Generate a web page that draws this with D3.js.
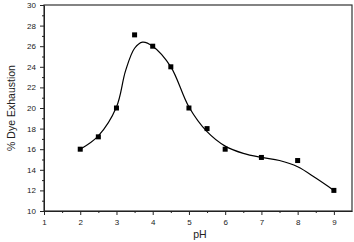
<!DOCTYPE html>
<html><head><meta charset="utf-8">
<script src="https://cdn.jsdelivr.net/npm/d3@7"></script>
<style>body{margin:0;background:#fff}svg{display:block}text{font-family:"Liberation Sans",Arial,sans-serif}</style>
</head><body><div id="chart"></div>
<script>
const pH = [2, 2.5, 3, 3.5, 4, 4.5, 5, 5.5, 6, 7, 8, 9];
const exhaustion = [16, 17.2, 20, 27.1, 26, 24, 20, 18, 16, 15.2, 14.9, 12];
const fitPH = [2, 2.5, 3, 3.25, 3.5, 3.72, 4, 4.5, 5, 5.5, 6, 6.5, 7, 7.5, 8, 8.5, 9];
const fitY = [16, 17.3, 20.1, 23.6, 25.8, 26.4, 26.0, 24.0, 20.1, 17.7, 16.3, 15.6, 15.2, 14.9, 14.3, 13.2, 12];
const xTicks = [1, 2, 3, 4, 5, 6, 7, 8, 9];
const yTicks = [10, 12, 14, 16, 18, 20, 22, 24, 26, 28, 30];

const W = 354, H = 242;
const m = {left: 44, right: 2, top: 5, bottom: 31};
const svg = d3.select("#chart").append("svg").attr("width", W).attr("height", H);
const x = d3.scaleLinear().domain([1, 9.5]).range([m.left, W - m.right]);
const y = d3.scaleLinear().domain([10, 30]).range([H - m.bottom, m.top]);

// frame
svg.append("rect").attr("x", x(1)).attr("y", y(30)).attr("width", x(9.5) - x(1)).attr("height", y(10) - y(30))
  .attr("fill", "none").attr("stroke", "#333").attr("stroke-width", 1.2);

const xAxis = svg.append("g").attr("transform", `translate(0,${y(10)})`)
  .call(d3.axisBottom(x).tickValues(xTicks).tickFormat(d3.format("d")).tickSize(4).tickSizeOuter(0));
svg.append("g").attr("transform", `translate(0,${y(10)})`)
  .call(d3.axisBottom(x).tickValues(d3.range(1.5, 9.5, 1)).tickFormat("").tickSize(2).tickSizeOuter(0))
  .select(".domain").remove();
const yAxis = svg.append("g").attr("transform", `translate(${x(1)},0)`)
  .call(d3.axisLeft(y).tickValues(yTicks).tickFormat(d3.format("d")).tickSize(4).tickSizeOuter(0));
svg.append("g").attr("transform", `translate(${x(1)},0)`)
  .call(d3.axisLeft(y).tickValues(d3.range(11, 30, 2)).tickFormat("").tickSize(2).tickSizeOuter(0))
  .select(".domain").remove();
svg.selectAll(".tick text").attr("font-size", 8).attr("fill", "#222").attr("font-family", "Liberation Sans, Arial, sans-serif");
svg.selectAll(".domain, .tick line").attr("stroke", "#222");
xAxis.selectAll(".tick text").attr("dy", "0.9em");
yAxis.selectAll(".tick text").attr("dx", "-1px");

// curve
svg.append("path").datum(fitPH.map((p, i) => [p, fitY[i]]))
  .attr("d", d3.line().x(d => x(d[0])).y(d => y(d[1])).curve(d3.curveCatmullRom.alpha(0.5)))
  .attr("fill", "none").attr("stroke", "#000").attr("stroke-width", 1.2);

// markers
svg.selectAll("rect.pt").data(pH).enter().append("rect").attr("class", "pt")
  .attr("x", (d) => x(d) - 2.5).attr("y", (d, i) => y(exhaustion[i]) - 2.5)
  .attr("width", 5).attr("height", 5).attr("fill", "#000");

svg.append("text").attr("x", 200).attr("y", 238).attr("text-anchor", "middle")
  .attr("font-size", 10.5).attr("fill", "#222").text("pH");
svg.append("text").attr("transform", `translate(15,${y(20)}) rotate(-90)`).attr("text-anchor", "middle")
  .attr("font-size", 10.5).attr("fill", "#222").text("% Dye Exhaustion");
</script></body></html>
